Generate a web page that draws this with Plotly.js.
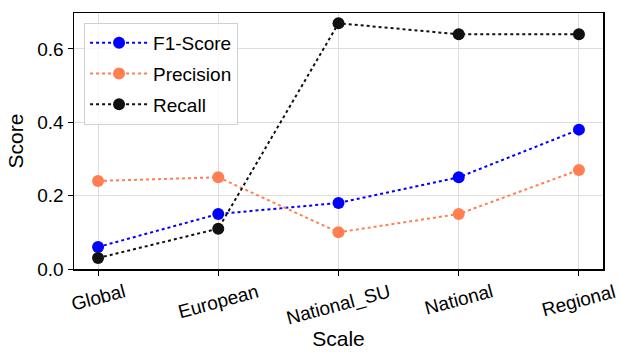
<!DOCTYPE html>
<html>
<head>
<meta charset="utf-8">
<script src="https://cdn.plot.ly/plotly-3.0.1.min.js"></script>
<style>html,body{margin:0;padding:0;background:#fff;}#chart{width:621px;height:352px;}</style>
</head>
<body>
<div id="chart"></div>
<script>
const scales = ["Global", "European", "National_SU", "National", "Regional"];
const f1Score = [0.06, 0.15, 0.18, 0.25, 0.38];
const precision = [0.24, 0.25, 0.10, 0.15, 0.27];
const recall = [0.03, 0.11, 0.67, 0.64, 0.64];
const yTicks = [0.0, 0.2, 0.4, 0.6];
const yTickLabels = ["0.0", "0.2", "0.4", "0.6"];

function series(name, y, color) {
  return {
    x: scales, y: y, name: name, legendgroup: name, type: 'scatter', mode: 'lines+markers',
    line: {color: color, width: 2, dash: 'dot'},
    marker: {color: color, size: 12}
  };
}
const data = [
  series('F1-Score', f1Score, '#0000ff'),
  series('Precision', precision, '#ff7f50'),
  series('Recall', recall, '#111111')
];
const font = {family: 'Liberation Sans, Arial, sans-serif', color: '#000'};
const tickAnnotations = scales.map(s => ({
  x: s, xref: 'x', y: 0, yref: 'paper', yanchor: 'top', xanchor: 'center',
  yshift: -9, text: s, showarrow: false, textangle: -15,
  font: Object.assign({size: 19}, font)
}));
const layout = {
  width: 621, height: 352,
  margin: {l: 74, r: 18, t: 13, b: 83},
  paper_bgcolor: '#fff', plot_bgcolor: '#fff',
  font: Object.assign({size: 19}, font),
  showlegend: true,
  legend: {x: 0.019, y: 0.961, xanchor: 'left', yanchor: 'top',
    bgcolor: 'rgba(255,255,255,0.8)', bordercolor: '#d0d0d0', borderwidth: 1,
    font: Object.assign({size: 19}, font), tracegroupgap: 3, itemwidth: 58},
  annotations: tickAnnotations,
  xaxis: {
    type: 'category', range: [-0.2, 4.2],
    showgrid: true, gridcolor: '#dddddd', gridwidth: 1,
    showline: true, linecolor: '#000', linewidth: 1.5, mirror: true,
    ticks: 'outside', ticklen: 5, tickcolor: '#000',
    showticklabels: false,
    zeroline: false,
    title: {text: 'Scale', font: Object.assign({size: 21}, font), standoff: 57}
  },
  yaxis: {
    range: [0, 0.698],
    tickvals: yTicks, ticktext: yTickLabels,
    showgrid: true, gridcolor: '#dddddd', gridwidth: 1,
    showline: true, linecolor: '#000', linewidth: 1.5, mirror: true,
    ticks: 'outside', ticklen: 5, tickcolor: '#000',
    tickfont: Object.assign({size: 19}, font),
    zeroline: false,
    title: {text: 'Score', font: Object.assign({size: 21}, font), standoff: 8}
  }
};
Plotly.newPlot('chart', data, layout, {displayModeBar: false, staticPlot: true});
</script>
</body>
</html>
